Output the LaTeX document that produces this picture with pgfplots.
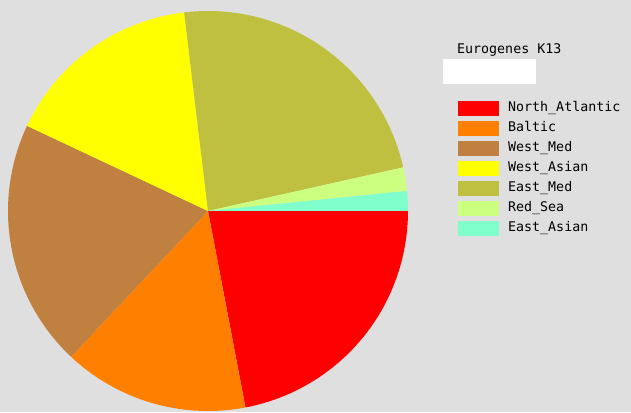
\documentclass[border=0pt]{standalone}
\usepackage{fontspec}
\usepackage{pgfplots}
\pgfplotsset{compat=1.18}
\newfontfamily\monofont{DejaVu Sans Mono}
\newcommand\kfont{\monofont\fontsize{13.3}{15}\selectfont}

\definecolor{bg}{HTML}{DFDFDF}
\definecolor{cNA}{HTML}{FF0000}
\definecolor{cBA}{HTML}{FF8000}
\definecolor{cWM}{HTML}{C08040}
\definecolor{cWA}{HTML}{FFFF00}
\definecolor{cEM}{HTML}{C0C040}
\definecolor{cRS}{HTML}{CCFF80}
\definecolor{cEA}{HTML}{80FFCC}

% Eurogenes K13 shares (percent):
% North_Atlantic 22.0, Baltic 15.0, West_Med 20.0, West_Asian 16.1,
% East_Med 23.4, Red_Sea 1.9, East_Asian 1.6
% Slices run clockwise from 3 o'clock; domains are cumulative percent.

\begin{document}
\begin{tikzpicture}
\fill[bg] (0,0) rectangle (631pt,412pt);
\begin{axis}[
  x=1pt, y=1pt,
  xmin=-208, xmax=423, ymin=-201, ymax=211,
  at={(0pt,0pt)}, anchor=south west,
  hide axis, clip=false,
  samples=90,
  legend cell align=left,
  legend image code/.code={\fill[#1] (0pt,-7.5pt) rectangle (41pt,7.5pt);},
  legend style={
    at={(axis cs:250,110)}, anchor=north west,
    draw=none, fill=none, font=\kfont,
    inner sep=0pt, row sep=5pt,
    nodes={inner sep=0pt, text height=10pt, text depth=5pt},
    /tikz/every odd column/.append style={column sep=9pt},
  },
]
\addplot[draw=none, fill=cNA, domain=0:22.0] ({200*cos(-3.6*x)},{200*sin(-3.6*x)}) -- (axis cs:0,0) -- cycle;
\addlegendentry{North\_Atlantic}
\addplot[draw=none, fill=cBA, domain=22.0:37.0] ({200*cos(-3.6*x)},{200*sin(-3.6*x)}) -- (axis cs:0,0) -- cycle;
\addlegendentry{Baltic}
\addplot[draw=none, fill=cWM, domain=37.0:57.0] ({200*cos(-3.6*x)},{200*sin(-3.6*x)}) -- (axis cs:0,0) -- cycle;
\addlegendentry{West\_Med}
\addplot[draw=none, fill=cWA, domain=57.0:73.1] ({200*cos(-3.6*x)},{200*sin(-3.6*x)}) -- (axis cs:0,0) -- cycle;
\addlegendentry{West\_Asian}
\addplot[draw=none, fill=cEM, domain=73.1:96.5] ({200*cos(-3.6*x)},{200*sin(-3.6*x)}) -- (axis cs:0,0) -- cycle;
\addlegendentry{East\_Med}
\addplot[draw=none, fill=cRS, domain=96.5:98.4] ({200*cos(-3.6*x)},{200*sin(-3.6*x)}) -- (axis cs:0,0) -- cycle;
\addlegendentry{Red\_Sea}
\addplot[draw=none, fill=cEA, domain=98.4:100] ({200*cos(-3.6*x)},{200*sin(-3.6*x)}) -- (axis cs:0,0) -- cycle;
\addlegendentry{East\_Asian}

% title and the empty white field beneath it
\node[anchor=base west, inner sep=0pt, font=\kfont] at (axis cs:249,157) {Eurogenes K13};
\fill[white] (axis cs:235,127) rectangle (axis cs:328,152);
\end{axis}
\end{tikzpicture}
\end{document}
